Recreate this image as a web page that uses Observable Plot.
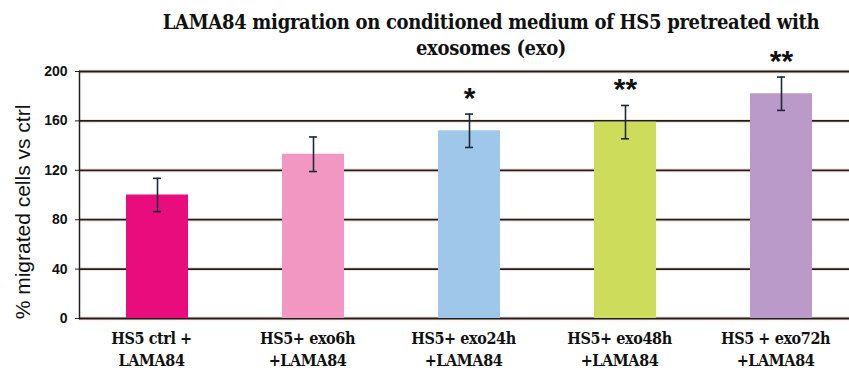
<!DOCTYPE html>
<html>
<head>
<meta charset="utf-8">
<script src="https://cdn.jsdelivr.net/npm/d3@7"></script>
<script src="https://cdn.jsdelivr.net/npm/@observablehq/plot@0.6"></script>
<style>
  body { margin: 0; background: #fff; }
  #chart { position: relative; width: 849px; height: 371px; overflow: hidden; background: #fff; }
  #title {
    position: absolute; left: 491px; top: 9px; transform: translateX(-50%);
    white-space: nowrap; text-align: center;
    font-family: "DejaVu Serif", serif; font-stretch: condensed; font-weight: bold;
    font-size: 20px; line-height: 26px; letter-spacing: -0.3px; color: #111;
  }
  #chart svg { display: block; }
</style>
</head>
<body>
<div id="chart">
  <div id="title">LAMA84 migration on conditioned medium of HS5 pretreated with<br>exosomes (exo)</div>
</div>
<script>
// Treatment groups, in drawing order
const categories = ["ctrl", "exo6h", "exo24h", "exo48h", "exo72h"];
const categoryLabels = [
  "HS5 ctrl +\nLAMA84",
  "HS5+ exo6h\n+LAMA84",
  "HS5+ exo24h\n+LAMA84",
  "HS5+ exo48h\n+LAMA84",
  "HS5 + exo72h\n+LAMA84"
];
// % migrated cells relative to control, with error (± SD)
const values = [100, 133, 152, 159, 182];
const errors = [13.5, 14, 13.5, 13.5, 13.5];
// significance markers
const significance = ["", "", "*", "**", "**"];
const barColors = ["#e90c7c", "#f197c1", "#9ec7ea", "#cddd5b", "#b99ac9"];
const yTicks = [0, 40, 80, 120, 160, 200];

const data = categories.map((c, i) => ({
  category: c,
  label: categoryLabels[i],
  value: values[i],
  err: errors[i],
  sig: significance[i],
  color: barColors[i]
}));

const chart = Plot.plot({
  width: 849,
  height: 371,
  marginTop: 71,
  marginBottom: 53,
  marginLeft: 79,
  marginRight: -10,
  style: { background: "transparent", overflow: "visible" },
  x: { domain: categories, paddingInner: 0.6, paddingOuter: 0.3, axis: null },
  y: { domain: [0, 200], axis: null },
  marks: [
    // gridlines with a soft warm halo
    Plot.ruleY(yTicks, { stroke: "#fae4dc", strokeWidth: 4 }),
    Plot.ruleY(yTicks, { stroke: "#1e1e1e", strokeWidth: 1.8 }),
    Plot.frame({ anchor: "left", stroke: "#1e1e1e", strokeWidth: 1.5 }),
    Plot.axisY(yTicks, {
      tickSize: 4, tickPadding: 8, fontSize: 14, fontWeight: "bold",
      fontFamily: "Liberation Sans, Arial, sans-serif",
      fill: "#111", stroke: "#1e1e1e", label: null
    }),
    Plot.barY(data, { x: "category", y: "value", fill: "color" }),
    // error bars
    Plot.ruleX(data, {
      x: "category", y1: d => d.value - d.err, y2: d => d.value + d.err,
      stroke: "#1c2a3a", strokeWidth: 1.6
    }),
    Plot.tickY(data, {
      x: "category", y: d => d.value + d.err, insetLeft: 27, insetRight: 27,
      stroke: "#1c2a3a", strokeWidth: 1.6
    }),
    Plot.tickY(data, {
      x: "category", y: d => d.value - d.err, insetLeft: 27, insetRight: 27,
      stroke: "#1c2a3a", strokeWidth: 1.6
    }),
    // significance stars
    Plot.text(data.filter(d => d.sig), {
      x: "category", y: d => d.value + d.err, text: "sig", dy: -16,
      fontSize: 30, fontWeight: "bold", fontFamily: "Liberation Sans, Arial, sans-serif",
      fill: "#111"
    }),
    // category labels
    Plot.text(data, {
      x: "category", text: "label", frameAnchor: "bottom", lineAnchor: "top",
      dy: 9, dx: -6, fontSize: 16, lineHeight: 1.42, fontWeight: "bold",
      fontFamily: "DejaVu Serif, serif", fill: "#111"
    }),
    // y-axis title
    Plot.text(["% migrated cells vs ctrl"], {
      frameAnchor: "left", textAnchor: "middle", rotate: -90, dx: -56, dy: 17,
      fontSize: 21, fontFamily: "Liberation Sans, Arial, sans-serif", fill: "#111"
    })
  ]
});

// condensed serif for the category labels
chart.querySelectorAll("g[font-family^='DejaVu Serif']").forEach(g => {
  g.style.fontStretch = "condensed";
  g.style.letterSpacing = "-0.4px";
});

document.getElementById("chart").prepend(chart);
</script>
</body>
</html>
